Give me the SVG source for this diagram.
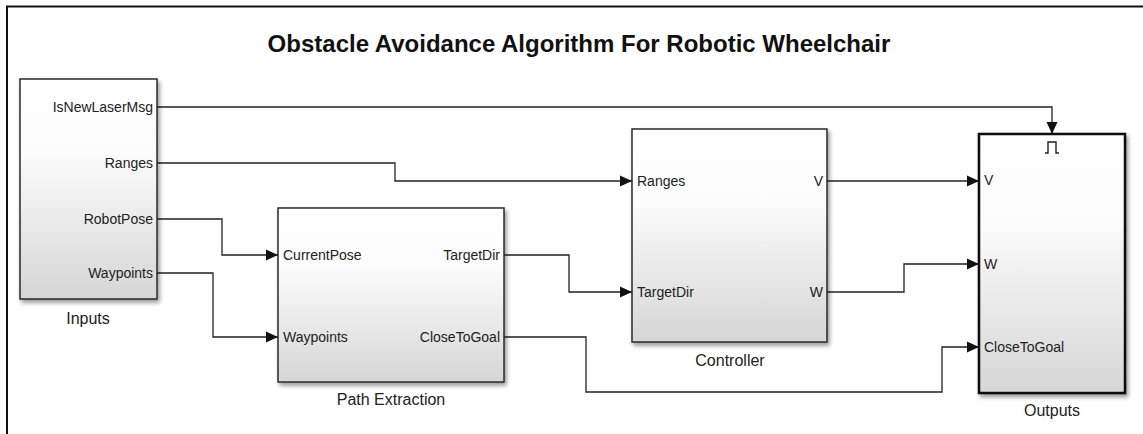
<svg xmlns="http://www.w3.org/2000/svg" width="1143" height="434" viewBox="0 0 1143 434">
  <style>
    .blk { fill: url(#blkFill); stroke: #2a2a2a; stroke-width: 1.5; filter: url(#shadow); }
    .blk.sel { stroke: #111; stroke-width: 2.5; }
    .port { font-family: "Liberation Sans", Arial, sans-serif; font-size: 14px; fill: #222; }
    .out { text-anchor: end; }
    .name { font-family: "Liberation Sans", Arial, sans-serif; font-size: 16px; fill: #222; text-anchor: middle; }
    .title { font-family: "Liberation Sans", Arial, sans-serif; font-size: 24px; font-weight: bold; fill: #111; text-anchor: middle; }
    .wire { fill: none; stroke: #222; stroke-width: 1.3; }
    .frame { fill: none; stroke: #111; stroke-width: 2; }
  </style>
  <defs>
    <linearGradient id="blkFill" x1="0" y1="0" x2="0" y2="1">
      <stop offset="0" stop-color="#ffffff"/>
      <stop offset="0.35" stop-color="#fbfbfb"/>
      <stop offset="1" stop-color="#d6d6d6"/>
    </linearGradient>
    <filter id="shadow" x="-10%" y="-10%" width="125%" height="125%">
      <feDropShadow dx="2" dy="3" stdDeviation="2" flood-color="#000" flood-opacity="0.4"/>
    </filter>
    <marker id="arrow" markerWidth="12" markerHeight="12" refX="12" refY="6" orient="auto" markerUnits="userSpaceOnUse">
      <path d="M0,0.5 L12,6 L0,11.5 Z" fill="#111"/>
    </marker>
  </defs>

  <rect width="1143" height="434" fill="#ffffff"/>

  <!-- frame around the model canvas -->
  <path class="frame" d="M7,434 V6.5 H1143"/>

  <text class="title" x="579" y="52">Obstacle Avoidance Algorithm For Robotic Wheelchair</text>

  <!-- signal lines -->
  <g id="connectors">
    <path class="wire" d="M157,107 H1052 V134" marker-end="url(#arrow)"/>
    <path class="wire" d="M157,163 H395 V181 H632" marker-end="url(#arrow)"/>
    <path class="wire" d="M157,219 H222 V255 H278" marker-end="url(#arrow)"/>
    <path class="wire" d="M157,273 H213 V337 H278" marker-end="url(#arrow)"/>
    <path class="wire" d="M504,255 H569 V292 H632" marker-end="url(#arrow)"/>
    <path class="wire" d="M504,337 H586 V392 H942 V347 H979" marker-end="url(#arrow)"/>
    <path class="wire" d="M827,181 H979" marker-end="url(#arrow)"/>
    <path class="wire" d="M827,292 H904 V264 H979" marker-end="url(#arrow)"/>
  </g>

  <g id="inputs">
    <rect class="blk" x="20" y="79" width="137" height="220"/>
    <text class="port out" x="153" y="112">IsNewLaserMsg</text>
    <text class="port out" x="153" y="168">Ranges</text>
    <text class="port out" x="153" y="224">RobotPose</text>
    <text class="port out" x="153" y="278">Waypoints</text>
    <text class="name" x="88" y="324">Inputs</text>
  </g>

  <g id="path-extraction">
    <rect class="blk" x="278" y="208" width="226" height="174"/>
    <text class="port" x="283" y="260">CurrentPose</text>
    <text class="port" x="283" y="342">Waypoints</text>
    <text class="port out" x="500" y="260">TargetDir</text>
    <text class="port out" x="500" y="342">CloseToGoal</text>
    <text class="name" x="391" y="405">Path Extraction</text>
  </g>

  <g id="controller">
    <rect class="blk" x="632" y="129" width="195" height="213"/>
    <text class="port" x="637" y="186">Ranges</text>
    <text class="port" x="637" y="297">TargetDir</text>
    <text class="port out" x="823" y="186">V</text>
    <text class="port out" x="823" y="297">W</text>
    <text class="name" x="730" y="366">Controller</text>
  </g>

  <g id="outputs">
    <rect class="blk sel" x="979" y="134" width="146" height="259"/>
    <!-- trigger port symbol -->
    <path d="M1045,153 H1048 V142 H1056 V153 H1059" fill="none" stroke="#222" stroke-width="1.4"/>
    <text class="port" x="984" y="185">V</text>
    <text class="port" x="984" y="269">W</text>
    <text class="port" x="984" y="352">CloseToGoal</text>
    <text class="name" x="1052" y="416">Outputs</text>
  </g>
</svg>
